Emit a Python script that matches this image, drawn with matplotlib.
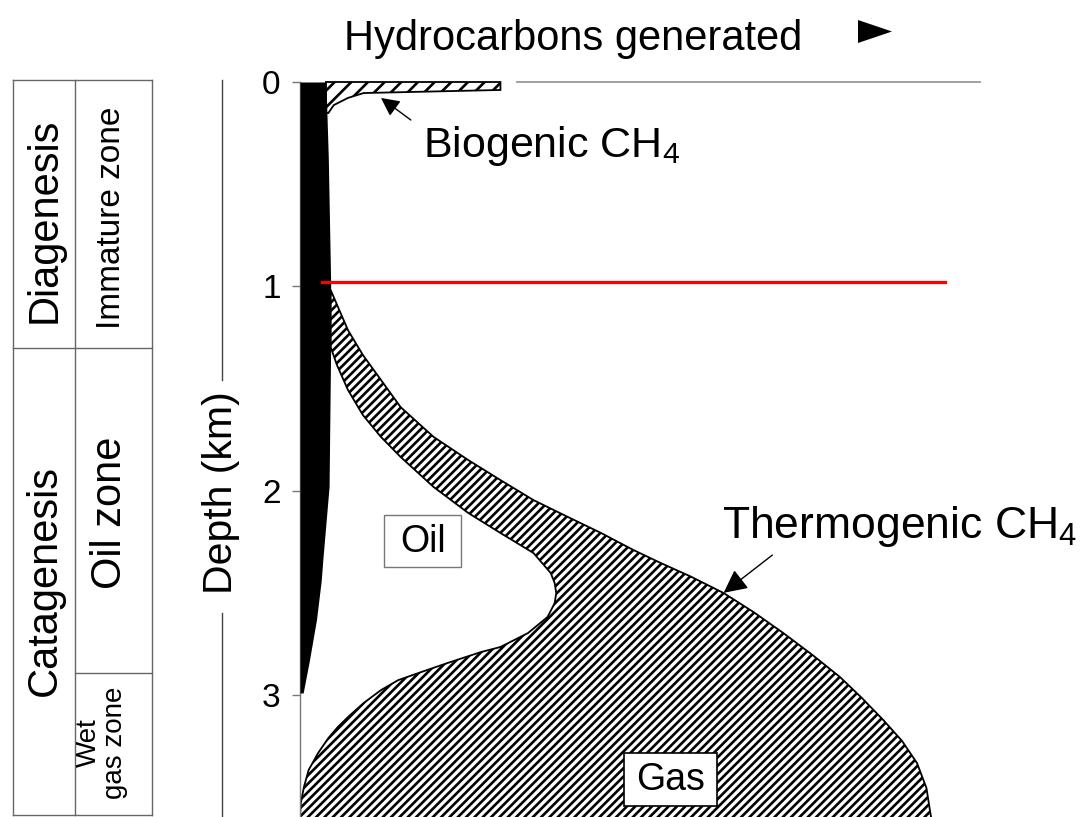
import numpy as np
import matplotlib
matplotlib.use("Agg")
import matplotlib.pyplot as plt
from matplotlib.lines import Line2D
from matplotlib.patches import Polygon, Rectangle

plt.rcParams['font.family'] = ['Liberation Sans', 'DejaVu Sans']
plt.rcParams['hatch.linewidth'] = 1.9

# depth in km, generation in relative units (0-100)
oil_depth = [0.0, 0.37, 0.98, 1.30, 1.98, 2.34, 2.44, 2.63, 2.83, 2.99]
oil_amount = [3.3, 3.6, 3.9, 3.9, 3.7, 2.9, 2.7, 2.1, 1.2, 0.4]

bio_depth = [0.0, 0.0, 0.039, 0.054, 0.078, 0.113, 0.152, 0.152]
bio_amount = [3.3, 25.5, 25.5, 8.1, 6.1, 4.3, 3.6, 3.3]

# thermogenic gas envelope: upper/right edge and lower/left edge
thermo_outer_depth = [1.018, 1.116, 1.214, 1.336, 1.458, 1.591, 1.737, 1.850, 1.948,
                      2.046, 2.129, 2.207, 2.290, 2.354, 2.420, 2.501, 2.594, 2.697,
                      2.804, 2.912, 3.015, 3.122, 3.225, 3.333, 3.455, 3.578, 3.620]
thermo_outer = [3.9, 5.0, 6.1, 8.0, 10.3, 12.8, 17.0, 21.4, 25.5,
                29.7, 34.1, 38.3, 42.4, 45.9, 49.7, 53.9, 57.7, 61.5,
                65.2, 68.7, 71.5, 74.2, 76.6, 78.5, 79.7, 80.2, 80.4]
thermo_inner_depth = [1.018, 1.297, 1.385, 1.507, 1.630, 1.737, 1.835, 1.982, 2.109,
                      2.207, 2.305, 2.403, 2.452, 2.501, 2.550, 2.618, 2.697, 2.765,
                      2.790, 2.843, 2.888, 2.927, 2.976, 3.039, 3.108, 3.157, 3.211,
                      3.284, 3.367, 3.450, 3.529, 3.597, 3.620]
thermo_inner = [3.9, 3.9, 4.7, 6.1, 8.0, 10.3, 12.8, 17.0, 21.4,
                25.5, 29.7, 31.9, 32.4, 32.6, 32.4, 31.5, 29.0, 25.5,
                23.0, 18.8, 15.4, 12.5, 10.3, 8.1, 6.1, 4.8, 3.6,
                2.3, 1.1, 0.5, 0.1, 0.0, 0.0]

depth_ticks = [0, 1, 2, 3]
oil_window_top = 0.98

W, H = 1086, 817


def fx(px):
    return px / W


def fy(py):
    return 1 - py / H


fig = plt.figure(figsize=(W / 100, H / 100), dpi=100)
ax = fig.add_axes([fx(300), 0, (W - 300) / W, 735 / H])
ax.set_xlim(0, 100)
ax.set_ylim(3.597, 0)

# oil column
ax.fill_betweenx(oil_depth, 0, oil_amount, color='black', lw=0, zorder=3)

# biogenic methane
ax.fill(bio_amount, bio_depth, facecolor='white', edgecolor='black', hatch='//',
        lw=1.3, zorder=2, clip_on=False)

# thermogenic methane
tx = np.r_[thermo_outer, thermo_inner[::-1]]
ty = np.r_[thermo_outer_depth, thermo_inner_depth[::-1]]
ax.fill(tx, ty, facecolor='white', edgecolor='black', hatch='////', lw=1.3, zorder=2)

ax.plot([27.6, 86.5], [0, 0], color='#999999', lw=1.3, clip_on=False)
ax.plot([2.8, 82.1], [oil_window_top, oil_window_top], color='#ff0000', lw=2.3, zorder=5)

ax.set_xticks([])
ax.set_yticks(depth_ticks)
ax.tick_params(axis='y', direction='out', length=6, width=1, color='#777777',
               labelsize=24, pad=8)
for s in ['top', 'right', 'bottom']:
    ax.spines[s].set_visible(False)
ax.spines['left'].set_color('#777777')
ax.spines['left'].set_linewidth(1)

# labelled boxes
ax.add_patch(Rectangle((10.7, 2.119), 9.8, 0.255, fc='white', ec='#777777', lw=1, zorder=6))
ax.text(15.6, 2.25, 'Oil', fontsize=27, ha='center', va='center', zorder=7)
ax.add_patch(Rectangle((41.2, 3.284), 11.9, 0.259, fc='white', ec='black', lw=1.2, zorder=6))
ax.text(47.15, 3.418, 'Gas', fontsize=27, ha='center', va='center', zorder=7)

ax.text(15.6, 0.367, r'Biogenic CH$_\mathregular{4}$', fontsize=31, va='baseline')
ax.annotate('', xy=(10.3, 0.078), xytext=(14.1, 0.186),
            arrowprops=dict(arrowstyle='-|>', mutation_scale=28, lw=1,
                            color='black', shrinkA=0, shrinkB=0))
ax.text(53.75, 2.232, r'Thermogenic CH$_\mathregular{4}$', fontsize=32, va='baseline')
ax.annotate('', xy=(53.9, 2.50), xytext=(60.1, 2.315),
            arrowprops=dict(arrowstyle='-|>', mutation_scale=36, lw=1,
                            color='black', shrinkA=0, shrinkB=0))

# title with arrow
fig.text(fx(573), fy(50), 'Hydrocarbons generated', fontsize=30, ha='center', va='baseline')
fig.add_artist(Polygon([[fx(858), fy(20)], [fx(892), fy(31.5)], [fx(858), fy(43)]],
                       closed=True, fc='black', ec='none', transform=fig.transFigure))

# depth label with dashes
fig.text(fx(221), fy(493), 'Depth (km)', fontsize=29.5, rotation=90, ha='center', va='center')
fig.add_artist(Line2D([fx(222), fx(222)], [fy(80), fy(380)], color='#444444', lw=1,
                      transform=fig.transFigure))
fig.add_artist(Line2D([fx(222), fx(222)], [fy(613), fy(817)], color='#444444', lw=1,
                      transform=fig.transFigure))

# zone table on the left
gray = '#666666'
table_lines = [
    ([13, 152], [80, 80]),
    ([13, 152], [815, 815]),
    ([13, 13], [80, 815]),
    ([75, 75], [80, 815]),
    ([152, 152], [80, 815]),
    ([13, 152], [348, 348]),
    ([75, 152], [673, 673]),
]
for xs, ys in table_lines:
    fig.add_artist(Line2D([fx(v) for v in xs], [fy(v) for v in ys], color=gray, lw=1,
                          transform=fig.transFigure))

fig.text(fx(45), fy(220), 'Diagenesis', fontsize=30, rotation=90, ha='center', va='center')
fig.text(fx(112), fy(218), 'Immature zone', fontsize=24, rotation=90, ha='center', va='center')
fig.text(fx(45), fy(580), 'Catagenesis', fontsize=30, rotation=90, ha='center', va='center')
fig.text(fx(110), fy(513), 'Oil zone', fontsize=30, rotation=90, ha='center', va='center')
fig.text(fx(102), fy(743), 'Wet\ngas zone', fontsize=20, rotation=90, ha='center',
         va='center', multialignment='center', linespacing=1.0)

fig.savefig('out.png', dpi=100)
